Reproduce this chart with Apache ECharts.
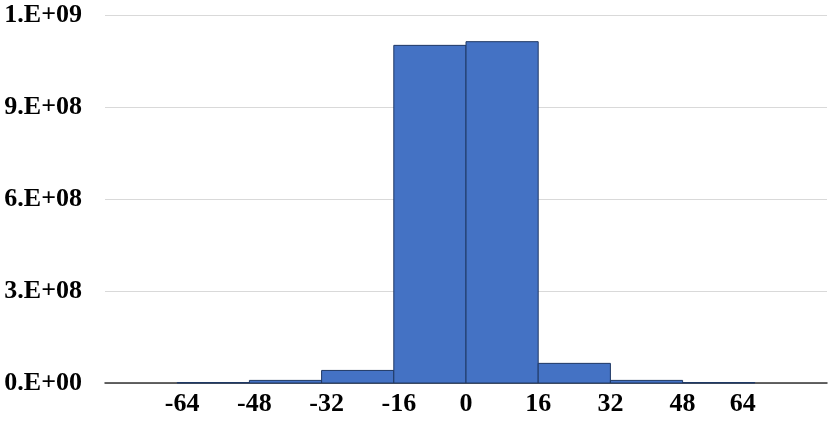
<!DOCTYPE html>
<html>
<head>
<meta charset="utf-8">
<script src="https://cdn.jsdelivr.net/npm/echarts@6/dist/echarts.min.js"></script>
<style>
html,body{margin:0;padding:0;background:#fff;}
#chart{width:830px;height:426px;}
</style>
</head>
<body>
<div id="chart"></div>
<script>
// Histogram bins (lower edges), bin width, and counts
var binStarts = [-64, -48, -32, -16, 0, 16, 32, 48];
var binWidth = 16;
var counts = [1.5e6, 8.5e6, 4.1e7, 1.101e9, 1.113e9, 6.4e7, 8.5e6, 1.5e6];
var xTickLabels = ['-64', '-48', '-32', '-16', '0', '16', '32', '48', '64'];
var yTickLabels = ['0.E+00', '3.E+08', '6.E+08', '9.E+08', '1.E+09'];

var data = binStarts.map(function (s, i) { return [s, s + binWidth, counts[i]]; });
var font = '"Liberation Serif","Times New Roman",serif';
var labelStyle = {fontFamily: font, fontWeight: 'bold', fontSize: 26, color: '#000'};

var chart = echarts.init(document.getElementById('chart'));
chart.setOption({
  animation: false,
  grid: {left: 105, right: 1, top: 15, bottom: 43},
  xAxis: {
    type: 'value', min: -80, max: 80, interval: 16,
    splitLine: {show: false},
    axisTick: {show: false},
    axisLine: {show: true, lineStyle: {color: '#333', width: 1.5}},
    axisLabel: {
      margin: 8,
      fontFamily: font, fontWeight: 'bold', fontSize: 26, color: '#000',
      rich: {
        neg: Object.assign({padding: [0, 0, 0, 10]}, labelStyle),
        pos: Object.assign({}, labelStyle),
        last: Object.assign({padding: [0, 24, 0, 0]}, labelStyle)
      },
      formatter: function (v) {
        var idx = xTickLabels.indexOf(String(v));
        if (idx < 0) return '';
        var t = xTickLabels[idx];
        if (idx === xTickLabels.length - 1) return '{last|' + t + '}';
        return v < 0 ? '{neg|' + t + '}' : '{pos|' + t + '}';
      }
    }
  },
  yAxis: {
    type: 'value', min: 0, max: 1.2e9, interval: 3e8,
    axisLine: {show: false},
    axisTick: {show: false},
    splitLine: {show: true, lineStyle: {color: '#d9d9d9', width: 1}},
    axisLabel: {
      margin: 23,
      fontFamily: font, fontWeight: 'bold', fontSize: 26, color: '#000',
      formatter: function (v) { return yTickLabels[Math.round(v / 3e8)]; }
    }
  },
  series: [{
    type: 'custom',
    data: data,
    encode: {x: [0, 1], y: 2},
    renderItem: function (params, api) {
      var p0 = api.coord([api.value(0), api.value(2)]);
      var p1 = api.coord([api.value(1), 0]);
      return {
        type: 'rect',
        shape: {x: p0[0], y: p0[1], width: p1[0] - p0[0], height: p1[1] - p0[1]},
        style: {fill: '#4472C4', stroke: '#1F3864', lineWidth: 1}
      };
    }
  }]
});
</script>
</body>
</html>
